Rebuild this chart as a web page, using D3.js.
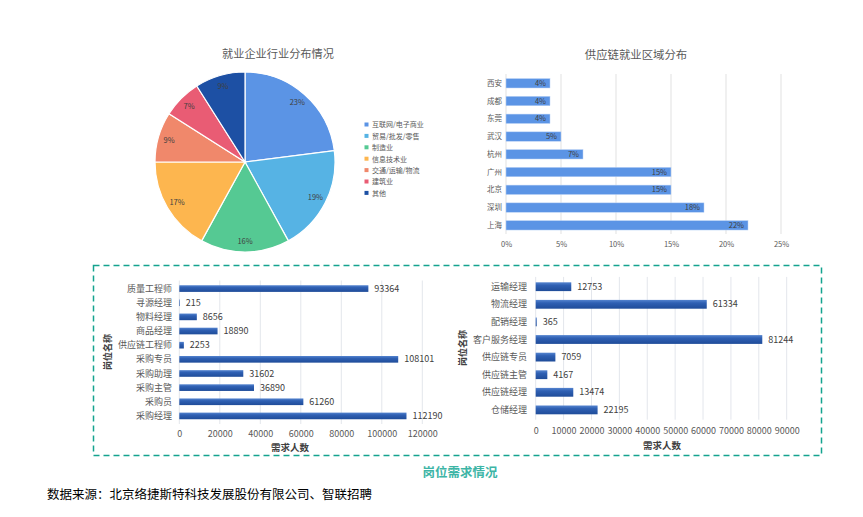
<!DOCTYPE html>
<html><head><meta charset="utf-8">
<script src="https://cdn.jsdelivr.net/npm/d3@7/dist/d3.min.js"></script>
<style>
body{margin:0;background:#fff;}
svg{display:block;font-family:"Noto Sans CJK SC","Noto Sans",sans-serif;}
</style></head>
<body><svg id="c" width="863" height="517"></svg>
<script>
// ---- Data ----
const pieCategories = ["互联网/电子商业","贸易/批发/零售","制造业","信息技术业","交通/运输/物流","建筑业","其他"];
const pieValues = [23,19,16,17,9,7,9];
const pieColors = ["#5B94E5","#56B3E4","#55C993","#FDB64F","#F0886B","#E95C74","#1D50A4"];

const regionCategories = ["西安","成都","东莞","武汉","杭州","广州","北京","深圳","上海"];
const regionValues = [4,4,4,5,7,15,15,18,22];
const regionTicks = [0,5,10,15,20,25];

const jobs1Categories = ["质量工程师","寻源经理","物料经理","商品经理","供应链工程师","采购专员","采购助理","采购主管","采购员","采购经理"];
const jobs1Values = [93364,215,8656,18890,2253,108101,31602,36890,61260,112190];
const jobs1Ticks = [0,20000,40000,60000,80000,100000,120000];

const jobs2Categories = ["运输经理","物流经理","配销经理","客户服务经理","供应链专员","供应链主管","供应链经理","仓储经理"];
const jobs2Values = [12753,61334,365,81244,7059,4167,13474,22195];
const jobs2Ticks = [0,10000,20000,30000,40000,50000,60000,70000,80000,90000];

const svg = d3.select("#c");
const defs = svg.append("defs");
const grad = defs.append("linearGradient").attr("id","barGrad").attr("x1",0).attr("y1",0).attr("x2",0).attr("y2",1);
grad.append("stop").attr("offset","0%").attr("stop-color","#5584CF");
grad.append("stop").attr("offset","35%").attr("stop-color","#2F60B3");
grad.append("stop").attr("offset","100%").attr("stop-color","#1F4C99");

// ---- Pie ----
svg.append("text").attr("x",278).attr("y",58).attr("text-anchor","middle")
  .attr("font-size",11.2).attr("fill","#595959").text("就业企业行业分布情况");
const pieG = svg.append("g").attr("transform","translate(245,162)");
const pie = d3.pie().sort(null).value(d=>d)(pieValues);
const arc = d3.arc().innerRadius(0).outerRadius(90);
const labArc = d3.arc().innerRadius(79).outerRadius(79);
pieG.selectAll("path").data(pie).join("path")
  .attr("d",arc).attr("fill",(d,i)=>pieColors[i]).attr("stroke","#fff").attr("stroke-width",1.2);
pieG.selectAll("text").data(pie).join("text")
  .attr("transform",d=>`translate(${labArc.centroid(d)})`)
  .attr("text-anchor","middle").attr("dy","0.35em")
  .attr("font-size",7.5).attr("fill","#404040").text(d=>d.data+"%");
const leg = svg.append("g");
pieCategories.forEach((c,i)=>{
  const y = 125 + i*11.4;
  leg.append("rect").attr("x",364.5).attr("y",y-2.5).attr("width",4).attr("height",4).attr("fill",pieColors[i]);
  leg.append("text").attr("x",372).attr("y",y).attr("dy","0.35em").attr("font-size",7)
    .attr("fill","#595959").text(c);
});

// ---- Region bar ----
svg.append("text").attr("x",636).attr("y",59).attr("text-anchor","middle")
  .attr("font-size",11.4).attr("fill","#595959").text("供应链就业区域分布");
const rx = d3.scaleLinear().domain([0,25]).range([506,781]);
const ry = d3.scaleBand().domain(regionCategories).range([74.4,234.2]).paddingInner(0.47).paddingOuter(0.235);
const rG = svg.append("g");
rG.selectAll("line.g").data(regionTicks).join("line").attr("class","g")
  .attr("x1",d=>rx(d)).attr("x2",d=>rx(d)).attr("y1",74).attr("y2",234)
  .attr("stroke","#d9d9d9").attr("stroke-width",0.8);
const rAxis = rG.append("g").attr("transform","translate(0,234)")
  .call(d3.axisBottom(rx).tickValues(regionTicks).tickSize(0).tickPadding(8).tickFormat(d=>d+"%"));
rAxis.select(".domain").remove();
rAxis.selectAll("text").attr("font-size",7.5).attr("fill","#595959").attr("font-family","'Noto Sans CJK SC',sans-serif");
rG.selectAll("rect").data(regionValues).join("rect")
  .attr("x",rx(0)).attr("y",(d,i)=>ry(regionCategories[i]))
  .attr("width",d=>rx(d)-rx(0)).attr("height",ry.bandwidth())
  .attr("fill","#5B94E5").attr("stroke","#bcd3f5").attr("stroke-width",0.5);
rG.selectAll("text.v").data(regionValues).join("text").attr("class","v")
  .attr("x",d=>rx(d)-4).attr("y",(d,i)=>ry(regionCategories[i])+ry.bandwidth()/2)
  .attr("dy","0.35em").attr("text-anchor","end").attr("font-size",7.5).attr("fill","#404040")
  .text(d=>d+"%");
rG.selectAll("text.c").data(regionCategories).join("text").attr("class","c")
  .attr("x",502).attr("y",d=>ry(d)+ry.bandwidth()/2).attr("dy","0.35em")
  .attr("text-anchor","end").attr("font-size",7.5).attr("fill","#595959").text(d=>d);

// ---- Dashed box ----
svg.append("rect").attr("x",93.5).attr("y",265.5).attr("width",728).attr("height",190)
  .attr("fill","none").attr("stroke","#14A38F").attr("stroke-width",1.5).attr("stroke-dasharray","6,4");

// ---- Job bar charts ----
function jobChart(cats, vals, ticks, x0, x1, xmax, yr, pi, po, catX, yTitleX, yTitleY, xTitleX, xTitleY, tickY){
  const x = d3.scaleLinear().domain([0,xmax]).range([x0,x1]);
  const y = d3.scaleBand().domain(cats).range(yr).paddingInner(pi).paddingOuter(po);
  const g = svg.append("g");
  g.selectAll("line.g").data(ticks).join("line").attr("class","g")
    .attr("x1",d=>x(d)).attr("x2",d=>x(d)).attr("y1",yr[0]-1).attr("y2",yr[1]+1)
    .attr("stroke","#e3e6ec").attr("stroke-width",1);
  const ax = g.append("g").attr("transform",`translate(0,${tickY})`)
    .call(d3.axisBottom(x).tickValues(ticks).tickSize(0).tickPadding(0).tickFormat(d3.format("d")));
  ax.select(".domain").remove();
  ax.selectAll("text").attr("font-size",9).attr("fill","#595959").attr("dy","0.35em")
    .attr("font-family","'Noto Sans CJK SC',sans-serif");
  g.selectAll("rect").data(vals).join("rect")
    .attr("x",x(0)).attr("y",(d,i)=>y(cats[i]))
    .attr("width",d=>Math.max(0.6,x(d)-x(0))).attr("height",y.bandwidth())
    .attr("fill","url(#barGrad)");
  g.selectAll("text.v").data(vals).join("text").attr("class","v")
    .attr("x",d=>x(d)+6).attr("y",(d,i)=>y(cats[i])+y.bandwidth()/2).attr("dy","0.35em")
    .attr("font-size",9).attr("fill","#404040").text(d=>d);
  g.selectAll("text.c").data(cats).join("text").attr("class","c")
    .attr("x",catX).attr("y",d=>y(d)+y.bandwidth()/2).attr("dy","0.35em")
    .attr("text-anchor","end").attr("font-size",9).attr("fill","#595959").text(d=>d);
  g.append("text").attr("transform",`translate(${yTitleX},${yTitleY}) rotate(-90)`)
    .attr("text-anchor","middle").attr("dy","0.35em").attr("font-size",9).attr("font-weight","bold")
    .attr("fill","#404040").text("岗位名称");
  g.append("text").attr("x",xTitleX).attr("y",xTitleY).attr("text-anchor","middle").attr("dy","0.35em")
    .attr("font-size",9.5).attr("font-weight","bold").attr("fill","#404040").text("需求人数");
}
jobChart(jobs1Categories, jobs1Values, jobs1Ticks, 179.3, 422.3, 120000, [281.5,423], 0.53, 0.265,
  172, 108, 352, 290, 448, 433.5);
jobChart(jobs2Categories, jobs2Values, jobs2Ticks, 535.7, 786.7, 90000, [277.9,418.7], 0.5, 0.25,
  527, 463, 348, 662, 446, 431);

// ---- Footer ----
svg.append("text").attr("x",460).attr("y",473).attr("text-anchor","middle").attr("dy","0.35em")
  .attr("font-size",12.5).attr("font-weight","bold").attr("fill","#3DB5A6").text("岗位需求情况");
svg.append("text").attr("x",47).attr("y",495).attr("dy","0.35em")
  .attr("font-size",12.5).attr("fill","#000").text("数据来源：北京络捷斯特科技发展股份有限公司、智联招聘");
</script></body></html>
